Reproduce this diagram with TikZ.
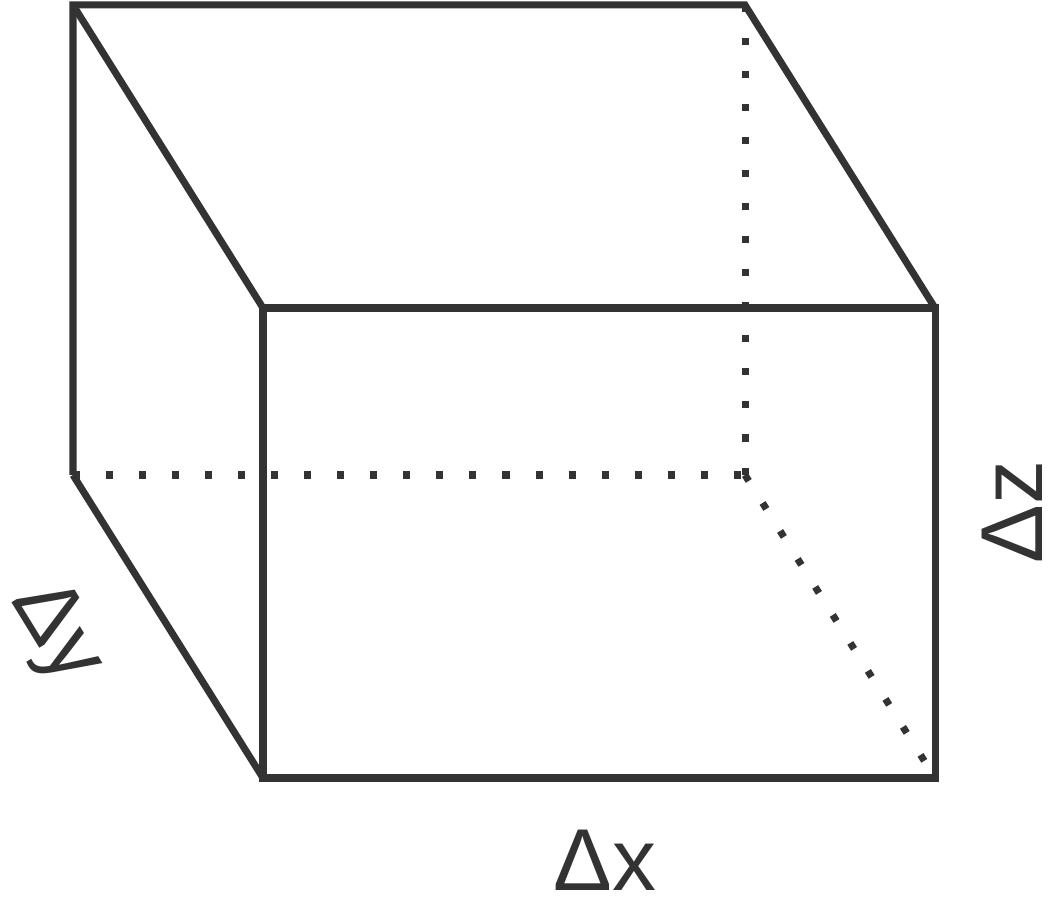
\documentclass[tikz,border=0pt]{standalone}
\usepackage{fontspec}
\setmainfont{Liberation Sans}
\usepackage{tikz}
\usetikzlibrary{calc}
\definecolor{boxgray}{HTML}{333333}

\begin{document}
\begin{tikzpicture}
	\tikzstyle{edge} = [draw=boxgray, line width=2pt, line cap=butt, line join=miter];
	\tikzstyle{hidden} = [draw=boxgray, line width=2pt, line cap=butt, dash pattern=on 2pt off 7.4pt];
	\tikzstyle{lbl} = [text=boxgray, inner sep=0pt, font=\fontsize{25}{30}\selectfont];
	
	\useasboundingbox (0,0) rectangle (10.52,9.01);
	
	% back face
	\coordinate (btl) at (0.73,8.96);
	\coordinate (btr) at (7.45,8.96);
	\coordinate (bbl) at (0.73,4.26);
	\coordinate (bbr) at (7.45,4.26);
	
	% front face
	\coordinate (ftl) at (2.63,5.93);
	\coordinate (ftr) at (9.35,5.93);
	\coordinate (fbl) at (2.63,1.23);
	\coordinate (fbr) at (9.35,1.23);
	
	
	\path[hidden] (btr) -- (bbr);
	\path[hidden] (bbl) -- (bbr);
	\path[hidden] (bbr) -- (fbr);
	
	\path[edge] (bbl) -- (btl) -- (btr) -- (ftr);
	\path[edge] (btl) -- (ftl);
	\path[edge] (bbl) -- (fbl);
	\path[edge] (ftl) -- (ftr) -- (fbr) -- (fbl) -- cycle;
	
	
	\node[lbl] (dx) at (6.05,0.41) {Δx};
	\node[lbl, rotate=-58.5] (dy) at (0.55,2.68) {Δy};
	\node[lbl, rotate=90] (dz) at (10.12,3.89) {Δz};
\end{tikzpicture}
\end{document}
